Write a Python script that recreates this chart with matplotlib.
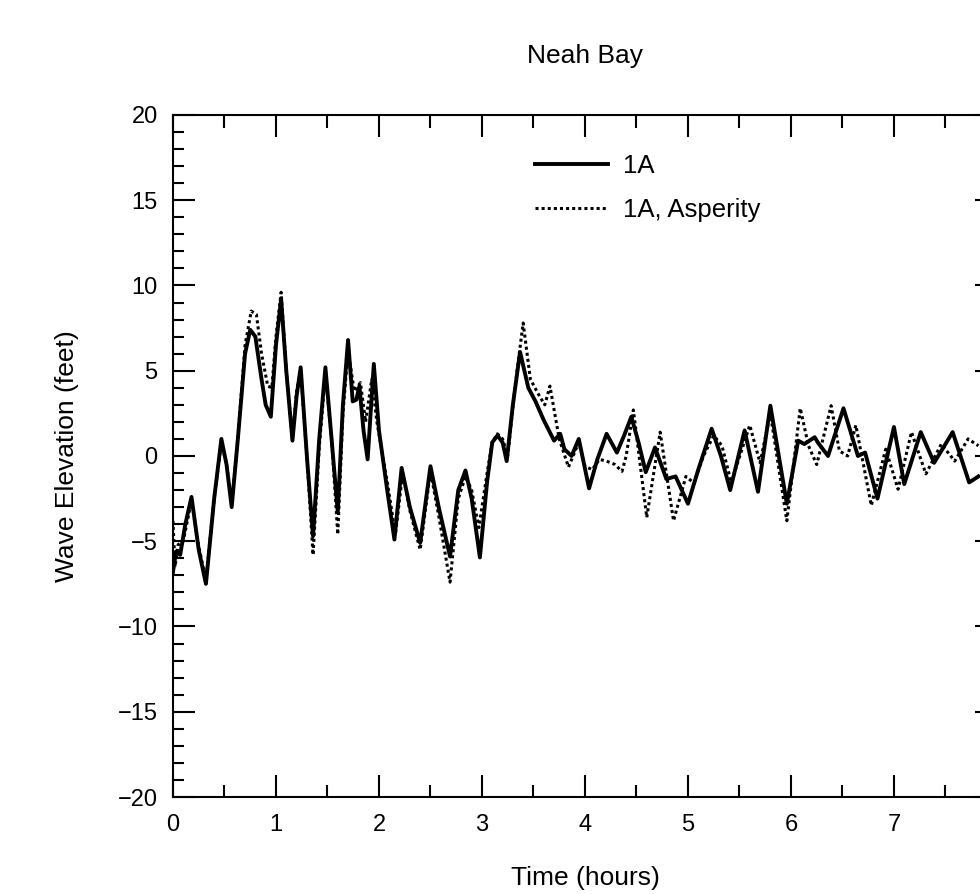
import matplotlib.pyplot as plt
from matplotlib.ticker import MultipleLocator

plt.rcParams['font.family'] = ['Liberation Sans', 'DejaVu Sans']

# 1A (solid)
t_1a = [0.00, 0.03, 0.07, 0.12, 0.18, 0.25, 0.32, 0.40, 0.47, 0.52, 0.57, 0.63,
        0.70, 0.75, 0.80, 0.86, 0.90, 0.95, 1.00, 1.05, 1.10, 1.16, 1.20, 1.24,
        1.30, 1.36, 1.42, 1.48, 1.54, 1.60, 1.65, 1.70, 1.745, 1.78, 1.81, 1.85,
        1.89, 1.95, 2.00, 2.08, 2.15, 2.22, 2.30, 2.40, 2.50, 2.58, 2.69, 2.77,
        2.84, 2.90, 2.98, 3.05, 3.10, 3.15, 3.20, 3.24, 3.30, 3.37, 3.45, 3.52,
        3.60, 3.70, 3.76, 3.80, 3.87, 3.94, 4.04, 4.12, 4.21, 4.31, 4.38, 4.45,
        4.52, 4.59, 4.68, 4.79, 4.88, 5.00, 5.10, 5.23, 5.32, 5.41, 5.55, 5.68,
        5.80, 5.96, 6.07, 6.13, 6.23, 6.26, 6.36, 6.51, 6.65, 6.72, 6.84, 7.00,
        7.10, 7.26, 7.39, 7.57, 7.73, 7.82]
v_1a = [-6.8, -5.6, -5.8, -4.0, -2.4, -5.5, -7.5, -2.5, 1.0, -0.5, -3.0, 1.0,
        6.0, 7.4, 7.0, 4.5, 3.0, 2.3, 6.5, 9.2, 5.0, 0.9, 3.5, 5.2,
        0.0, -4.7, 1.0, 5.2, 1.0, -3.3, 3.0, 6.8, 3.2, 3.3, 4.1, 1.5,
        -0.2, 5.4, 1.5, -2.0, -4.9, -0.7, -3.0, -5.1, -0.6, -3.0, -5.9, -2.0,
        -0.85, -2.5, -5.95, -1.5, 0.8, 1.2, 0.8, -0.3, 3.0, 6.1, 4.0, 3.2,
        2.1, 0.9, 1.3, 0.4, 0.0, 1.0, -1.9, -0.2, 1.3, 0.2, 1.2, 2.3,
        0.8, -0.95, 0.5, -1.35, -1.2, -2.8, -0.8, 1.6, 0.0, -2.0, 1.5, -2.1,
        2.95, -2.8, 0.9, 0.7, 1.1, 0.8, 0.0, 2.8, 0.0, 0.2, -2.5, 1.7,
        -1.65, 1.4, -0.4, 1.4, -1.55, -1.2]

# 1A, Asperity (dotted)
t_asp = [0.00, 0.02, 0.05, 0.10, 0.18, 0.25, 0.32, 0.40, 0.47, 0.52, 0.57, 0.63,
         0.70, 0.76, 0.81, 0.86, 0.92, 0.96, 1.00, 1.05, 1.10, 1.16, 1.20, 1.24,
         1.30, 1.36, 1.42, 1.48, 1.54, 1.60, 1.65, 1.70, 1.76, 1.82, 1.87, 1.93,
         1.98, 2.08, 2.16, 2.23, 2.30, 2.40, 2.50, 2.58, 2.69, 2.77, 2.84, 2.90,
         2.97, 3.05, 3.10, 3.15, 3.20, 3.25, 3.32, 3.40, 3.47, 3.55, 3.61, 3.66,
         3.75, 3.84, 3.94, 4.00, 4.07, 4.14, 4.21, 4.29, 4.36, 4.40, 4.47, 4.60,
         4.73, 4.86, 4.98, 5.06, 5.15, 5.25, 5.33, 5.42, 5.60, 5.70, 5.80, 5.96,
         6.09, 6.17, 6.25, 6.39, 6.47, 6.55, 6.63, 6.78, 6.92, 7.04, 7.17, 7.31,
         7.46, 7.59, 7.72, 7.82]
v_asp = [-3.8, -6.5, -5.2, -5.0, -2.6, -5.3, -7.3, -2.5, 0.8, -0.5, -2.8, 1.0,
         6.5, 8.5, 8.3, 6.0, 4.1, 4.0, 7.0, 9.6, 5.0, 1.0, 3.8, 5.0,
         0.0, -5.8, 0.5, 4.8, 1.0, -4.6, 2.5, 6.2, 3.8, 4.3, 2.0, 4.5,
         2.0, -1.5, -4.6, -1.0, -3.2, -5.5, -0.9, -3.5, -7.4, -2.5, -1.2, -2.0,
         -4.2, -1.0, 0.8, 1.3, 1.0, 0.0, 4.0, 7.8, 4.5, 3.6, 3.0, 4.1,
         1.0, -0.65, 0.8, -0.6, -0.8, -0.2, -0.3, -0.5, -0.9, 0.0, 2.7, -3.6,
         1.4, -3.8, -1.2, -1.6, 0.0, 1.2, 0.6, -1.55, 1.8, -0.4, 2.5, -3.8,
         2.8, 0.6, -0.5, 2.95, 0.3, 0.0, 1.8, -2.9, 0.4, -1.95, 1.4, -1.05,
         0.7, -0.3, 1.0, 0.6]

x_ticks = [0, 1, 2, 3, 4, 5, 6, 7, 8]
x_labels = ['0', '1', '2', '3', '4', '5', '6', '7', '']

fig = plt.figure(figsize=(9.8, 8.94), dpi=100)
ax = fig.add_axes([0.1765, 0.1085, 0.8408, 0.7629])

ax.plot(t_1a, v_1a, color='black', lw=2.8, label='1A')
ax.plot(t_asp, v_asp, color='black', lw=2.2, linestyle=(0, (1.0, 1.0)), label='1A, Asperity')

ax.set_xlim(0, 8)
ax.set_ylim(-20, 20)
ax.set_xticks(x_ticks)
ax.set_xticklabels(x_labels)
ax.xaxis.set_minor_locator(MultipleLocator(0.5))
ax.yaxis.set_major_locator(MultipleLocator(5))
ax.yaxis.set_minor_locator(MultipleLocator(1))
ax.tick_params(which='both', direction='in', top=True, right=True, width=1.5, labelsize=17)
ax.tick_params(axis='x', which='major', length=16, pad=12)
ax.tick_params(axis='x', which='minor', length=9)
ax.tick_params(axis='y', which='major', length=16, pad=11)
ax.tick_params(axis='y', which='minor', length=8)
for s in ax.spines.values():
    s.set_linewidth(1.5)

ax.set_xlabel('Time (hours)', fontsize=19, labelpad=22)
ax.set_ylabel('Wave Elevation (feet)', fontsize=19, labelpad=28)
fig.text(0.597, 1 - 56 / 894, 'Neah Bay', fontsize=19, ha='center', va='center')

ax.legend(loc='upper left', bbox_to_anchor=(0.439, 0.943), frameon=False,
          fontsize=18.5, handlelength=2.85, handletextpad=0.6, labelspacing=0.8,
          borderpad=0, borderaxespad=0)

fig.savefig('out.png', dpi=100)
